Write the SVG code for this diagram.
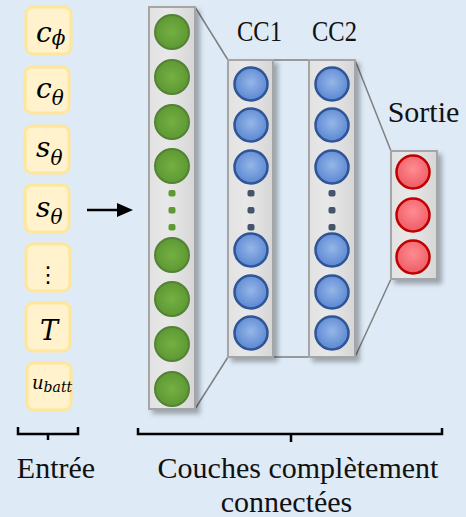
<svg xmlns="http://www.w3.org/2000/svg" width="466" height="517" viewBox="0 0 466 517">
  <defs>
    <style>
      .inbox { fill: #fff2cc; stroke: #ffe699; stroke-width: 3; }
      .math { font-family: "DejaVu Serif", serif; font-style: italic; fill: #000; }
      .lbl { font-family: "Liberation Serif", "DejaVu Serif", serif; font-size: 30px; fill: #111; }
      .col { fill: url(#colGrad); stroke: #a5a5a5; stroke-width: 2; filter: url(#shadow); }
      .conn { stroke: #7f7f7f; stroke-width: 1.5; fill: none; }
      .brace { stroke: #000; stroke-width: 2.5; fill: none; }
      .g { fill: url(#gGrad); stroke: #548235; stroke-width: 2; }
      .b { fill: url(#bGrad); stroke: #2f5597; stroke-width: 2.5; }
      .r { fill: url(#rGrad); stroke: #c00000; stroke-width: 2.5; }
      .gd { fill: #5e9a34; }
      .bd { fill: #44546a; }
    </style>
    <linearGradient id="colGrad" x1="0" y1="0" x2="1" y2="0">
      <stop offset="0" stop-color="#e2e2e2"/>
      <stop offset="0.4" stop-color="#e8e8e8"/>
      <stop offset="1" stop-color="#d6d6d6"/>
    </linearGradient>
    <radialGradient id="gGrad" cx="0.5" cy="0.5" r="0.55">
      <stop offset="0" stop-color="#74b043"/>
      <stop offset="1" stop-color="#5b9632"/>
    </radialGradient>
    <radialGradient id="bGrad" cx="0.5" cy="0.45" r="0.55">
      <stop offset="0" stop-color="#95b6e8"/>
      <stop offset="1" stop-color="#5b87d2"/>
    </radialGradient>
    <radialGradient id="rGrad" cx="0.5" cy="0.4" r="0.55">
      <stop offset="0" stop-color="#ff8c92"/>
      <stop offset="1" stop-color="#ef5f68"/>
    </radialGradient>
    <filter id="shadow" x="-30%" y="-10%" width="170%" height="130%">
      <feDropShadow dx="4" dy="4" stdDeviation="2.5" flood-color="#000" flood-opacity="0.3"/>
    </filter>
  </defs>

  <rect x="0" y="0" width="466" height="517" fill="#deeaf6"/>

  <!-- Inputs -->
  <g id="in-cphi">
    <rect class="inbox" x="26" y="7" width="45" height="47" rx="7"/>
    <text class="math" x="36" y="42" font-size="28">c<tspan font-size="20" y="45">ϕ</tspan></text>
  </g>
  <g id="in-ctheta">
    <rect class="inbox" x="25" y="67" width="44" height="46" rx="7"/>
    <text class="math" x="36" y="98" font-size="28">c<tspan font-size="20" y="105">θ</tspan></text>
  </g>
  <g id="in-stheta1">
    <rect class="inbox" x="25" y="126" width="44" height="47" rx="7"/>
    <text class="math" x="36" y="157" font-size="28">s<tspan font-size="20" y="165">θ</tspan></text>
  </g>
  <g id="in-stheta2">
    <rect class="inbox" x="25" y="185" width="44" height="47" rx="7"/>
    <text class="math" x="36" y="217" font-size="28">s<tspan font-size="20" y="224">θ</tspan></text>
  </g>
  <g id="in-dots">
    <rect class="inbox" x="26" y="244" width="44" height="47" rx="7"/>
    <text x="48" y="282" font-family="DejaVu Sans, sans-serif" font-size="22" text-anchor="middle" fill="#000">⋮</text>
  </g>
  <g id="in-T">
    <rect class="inbox" x="26" y="303" width="44" height="48" rx="7"/>
    <text class="math" x="40" y="340" font-size="27">T</text>
  </g>
  <g id="in-ubatt">
    <rect class="inbox" x="27" y="363" width="44" height="47" rx="7"/>
    <text class="math" x="32" y="389" font-size="18">u<tspan font-size="14" y="392">batt</tspan></text>
  </g>

  <!-- Connectors -->
  <g id="connectors">
    <line class="conn" x1="195" y1="7" x2="228" y2="60"/>
    <line class="conn" x1="195" y1="409" x2="228" y2="357"/>
    <line class="conn" x1="273" y1="60" x2="309" y2="60"/>
    <line class="conn" x1="273" y1="357" x2="309" y2="357"/>
    <line class="conn" x1="355" y1="60" x2="391" y2="151"/>
    <line class="conn" x1="355" y1="357" x2="391" y2="279"/>
    <line x1="87" y1="210" x2="119" y2="210" stroke="#000" stroke-width="2.5"/>
    <polygon points="117,203 133,210 117,217" fill="#000"/>
  </g>

  <!-- Input layer (green) -->
  <g id="layer-input">
    <rect class="col" x="149" y="7" width="46" height="402"/>
    <circle class="g" cx="172" cy="32" r="17"/>
    <circle class="g" cx="172" cy="77" r="17"/>
    <circle class="g" cx="172" cy="122" r="17"/>
    <circle class="g" cx="172" cy="166" r="17"/>
    <rect class="gd" x="168.5" y="190" width="7" height="6.5" rx="2"/>
    <rect class="gd" x="168.5" y="207" width="7" height="6.5" rx="2"/>
    <rect class="gd" x="168.5" y="224" width="7" height="6.5" rx="2"/>
    <circle class="g" cx="172" cy="255" r="17"/>
    <circle class="g" cx="172" cy="299" r="17"/>
    <circle class="g" cx="172" cy="344" r="17"/>
    <circle class="g" cx="172" cy="389" r="17"/>
  </g>

  <!-- CC1 -->
  <g id="layer-cc1">
    <rect class="col" x="228" y="60" width="45" height="297"/>
    <circle class="b" cx="251" cy="84" r="16.5"/>
    <circle class="b" cx="251" cy="125" r="16.5"/>
    <circle class="b" cx="251" cy="167" r="16.5"/>
    <rect class="bd" x="247.5" y="190" width="7" height="6.5" rx="2"/>
    <rect class="bd" x="247.5" y="207" width="7" height="6.5" rx="2"/>
    <rect class="bd" x="247.5" y="224" width="7" height="6.5" rx="2"/>
    <circle class="b" cx="251" cy="250" r="16.5"/>
    <circle class="b" cx="251" cy="292" r="16.5"/>
    <circle class="b" cx="251" cy="333" r="16.5"/>
    <text class="lbl" x="259.5" y="41" text-anchor="middle" textLength="45" lengthAdjust="spacingAndGlyphs">CC1</text>
  </g>

  <!-- CC2 -->
  <g id="layer-cc2">
    <rect class="col" x="309" y="60" width="46" height="297"/>
    <circle class="b" cx="332" cy="84" r="16.5"/>
    <circle class="b" cx="332" cy="125" r="16.5"/>
    <circle class="b" cx="332" cy="167" r="16.5"/>
    <rect class="bd" x="328.5" y="190" width="7" height="6.5" rx="2"/>
    <rect class="bd" x="328.5" y="207" width="7" height="6.5" rx="2"/>
    <rect class="bd" x="328.5" y="224" width="7" height="6.5" rx="2"/>
    <circle class="b" cx="332" cy="250" r="16.5"/>
    <circle class="b" cx="332" cy="292" r="16.5"/>
    <circle class="b" cx="332" cy="333" r="16.5"/>
    <text class="lbl" x="334.5" y="41" text-anchor="middle" textLength="45" lengthAdjust="spacingAndGlyphs">CC2</text>
  </g>

  <!-- Output -->
  <g id="layer-output">
    <rect class="col" x="391" y="151" width="46" height="128"/>
    <circle class="r" cx="413" cy="172" r="16.5"/>
    <circle class="r" cx="413" cy="215" r="16.5"/>
    <circle class="r" cx="413" cy="257" r="16.5"/>
    <text class="lbl" x="423.5" y="122" text-anchor="middle">Sortie</text>
  </g>

  <!-- Brackets and captions -->
  <g id="caption-input">
    <path class="brace" d="M18,427 V434 H78 V427 M48,434 V440"/>
    <text class="lbl" x="56" y="478" text-anchor="middle">Entrée</text>
  </g>
  <g id="caption-fc">
    <path class="brace" d="M138,428 V434 H442 V428 M291,434 V442"/>
    <text class="lbl" x="298" y="478" text-anchor="middle">Couches complètement</text>
    <text class="lbl" x="286.5" y="512" text-anchor="middle">connectées</text>
  </g>
</svg>
